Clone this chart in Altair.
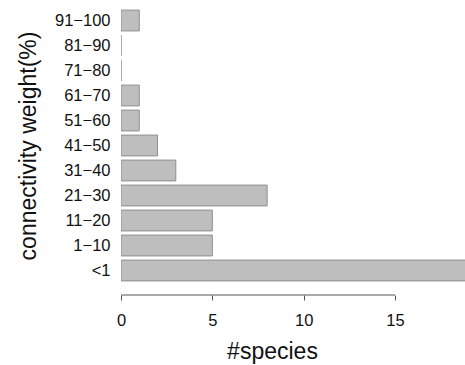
import altair as alt
import pandas as pd

categories = ["<1", "1−10", "11−20", "21−30", "31−40", "41−50",
              "51−60", "61−70", "71−80", "81−90", "91−100"]
species = [19, 5, 5, 8, 3, 2, 1, 1, 0, 0, 1]
x_ticks = [0, 5, 10, 15]

df = pd.DataFrame({"cat": categories, "n": species})
axis_df = pd.DataFrame({"a": [x_ticks[0]], "b": [x_ticks[-1]]})

FONT = "Liberation Sans"
order = categories[::-1]

xscale = alt.Scale(domain=[0, 18.83], nice=False, zero=True)

bars = alt.Chart(df).mark_bar(
    fill="#bebebe", stroke="#8f8f8f", strokeWidth=1, clip=True
).encode(
    y=alt.Y("cat:N", sort=order,
            scale=alt.Scale(paddingInner=1/6, paddingOuter=1/12),
            axis=alt.Axis(title="connectivity weight(%)", ticks=False, domain=False,
                          labelPadding=11, labelFontSize=16.5, labelFont=FONT,
                          labelColor="#111111", titleFont=FONT, titleFontSize=23,
                          titleFontWeight="normal", titleColor="#111111",
                          titlePadding=14)),
    x=alt.X("n:Q", scale=xscale,
            axis=alt.Axis(title="#species", values=x_ticks, domain=False,
                          grid=False, offset=12, tickSize=5, tickColor="#555555",
                          labelFlush=False,
                          labelPadding=12, labelFontSize=16.5, labelFont=FONT,
                          labelColor="#111111", titleFont=FONT, titleFontSize=23,
                          titleFontWeight="normal", titleColor="#111111",
                          titlePadding=12, titleX=151)),
)

axis_line = alt.Chart(axis_df).mark_rule(color="#555555", strokeWidth=1).encode(
    x=alt.X("a:Q", scale=xscale),
    x2="b:Q",
    y=alt.value(287),
)

chart = alt.layer(bars, axis_line).properties(
    width=344, height=275,
    background="white",
    autosize=alt.AutoSizeParams(type="none"),
    padding={"left": 121, "top": 8, "right": 0, "bottom": 82},
).configure_view(stroke=None)

chart.save("out.html", embed_options={"renderer": "svg", "actions": False})
